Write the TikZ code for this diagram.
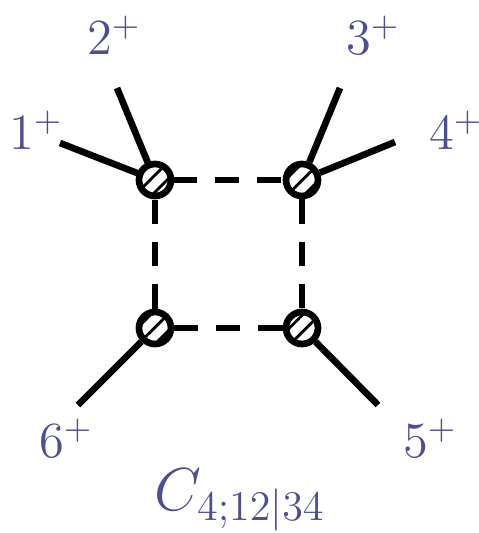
\documentclass[tikz,border=0pt]{standalone}
\usepackage{amsmath,amssymb}
\usepackage{tikz}
\usetikzlibrary{patterns.meta}
\definecolor{legblue}{RGB}{78,78,150}

\begin{document}
\begin{tikzpicture}[line width=1.9pt,
    blob/.style={circle, draw, line width=1.9pt, minimum size=0.32cm, inner sep=0pt,
        pattern={Lines[angle=45, distance=3.4pt, line width=0.8pt]}},
    leglabel/.style={text=legblue, font=\Large}]

        \useasboundingbox (0,0) rectangle (4.79,5.33);

        % loop vertices
        \node[blob] (V1) at (1.55,3.53) {};
        \node[blob] (V2) at (3.02,3.53) {};
        \node[blob] (V3) at (3.02,2.05) {};
        \node[blob] (V4) at (1.55,2.05) {};

        \draw[dashed, dash pattern=on 7pt off 5pt] (V1) -- (V2);
        \draw[dashed, dash pattern=on 7pt off 5pt] (V2) -- (V3);
        \draw[dashed, dash pattern=on 7pt off 5pt] (V3) -- (V4);
        \draw[dashed, dash pattern=on 7pt off 5pt] (V4) -- (V1);

        % external legs
        \coordinate (P1) at (0.60,3.90);
        \coordinate (P2) at (1.17,4.45);
        \coordinate (P3) at (3.40,4.45);
        \coordinate (P4) at (3.95,3.91);
        \coordinate (P5) at (3.78,1.28);
        \coordinate (P6) at (0.78,1.28);

        \draw (P1) -- (V1);
        \draw (P2) -- (V1);
        \draw (P3) -- (V2);
        \draw (P4) -- (V2);
        \draw (P5) -- (V3);
        \draw (P6) -- (V4);

        \node[leglabel] (L1) at (0.36,4.03) {$1^+$};
        \node[leglabel] (L2) at (1.14,4.98) {$2^+$};
        \node[leglabel] (L3) at (3.73,4.98) {$3^+$};
        \node[leglabel] (L4) at (4.56,4.03) {$4^+$};
        \node[leglabel] (L5) at (4.30,0.95) {$5^+$};
        \node[leglabel] (L6) at (0.66,0.95) {$6^+$};

        \node[leglabel, font=\LARGE] (name) at (2.40,0.33) {$C_{4;12|34}$};

\end{tikzpicture}
\end{document}
